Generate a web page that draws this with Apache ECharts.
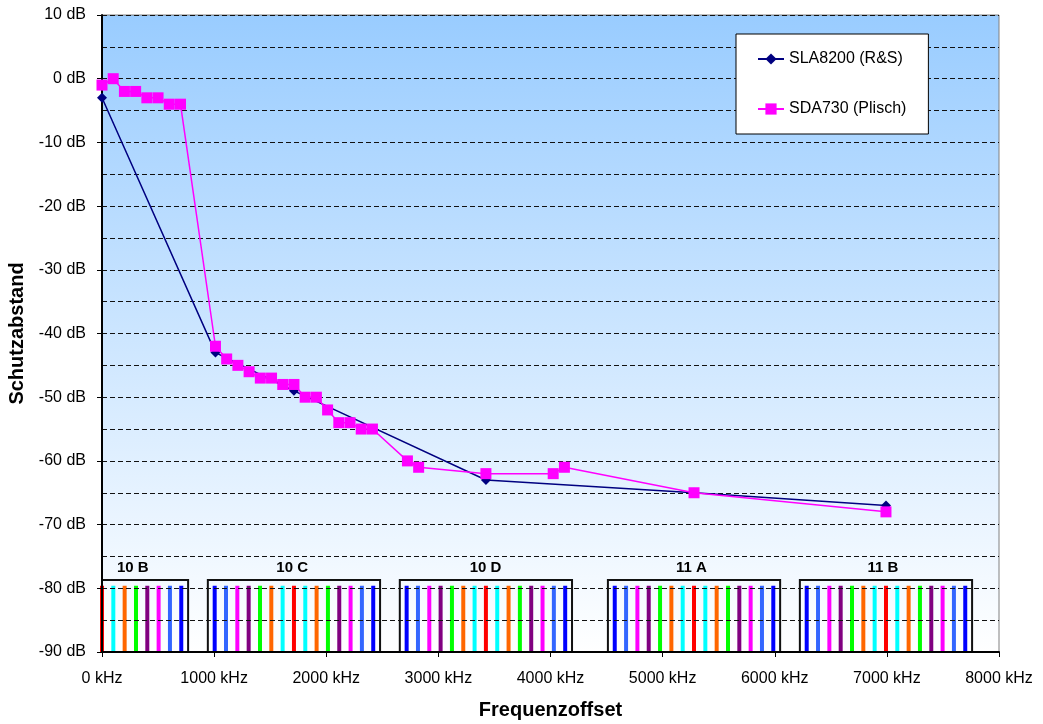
<!DOCTYPE html>
<html>
<head>
<meta charset="utf-8">
<script src="https://cdn.jsdelivr.net/npm/echarts@6/dist/echarts.min.js"></script>
<style>
html,body{margin:0;padding:0;background:#fff;}
#chart{width:1043px;height:724px;}
</style>
</head>
<body>
<div id="chart"></div>
<script>
// ---- data ----
var slaName = 'SLA8200 (R&S)';
var slaData = [[0,-3],[1012,-43],[1712,-49],[3424,-63],[5280,-65],[6992,-67]];
var sdaName = 'SDA730 (Plisch)';
var sdaData = [[0,-1],[100,0],[200,-2],[300,-2],[400,-3],[500,-3],[600,-4],[700,-4],
  [1012,-42],[1112,-44],[1212,-45],[1312,-46],[1412,-47],[1512,-47],[1612,-48],[1712,-48],
  [1812,-50],[1912,-50],[2012,-52],[2112,-54],[2212,-54],[2312,-55],[2412,-55],
  [2724,-60],[2824,-61],[3424,-62],[4024,-62],[4124,-61],[5280,-65],[6992,-68]];
// DAB blocks (centre offsets in kHz)
var blockNames = ['10 B','10 C','10 D','11 A','11 B'];
var blockCenters = [0,1712,3424,5280,6992];
var blockLabelX = [274,1696,3420,5256,6965];
var blockHalfWidth = 768;
var blockTop = -78.7;
var carrierTop = -79.6;
var carrierOffsets = [-707,-606,-505,-404,-303,-202,-101,0,101,202,303,404,505,606,707];
var carrierColors = ['#0000ff','#3366ff','#ff00ff','#800080','#00ff00','#ff6600','#00ffff','#ff0000',
  '#00ffff','#ff6600','#00ff00','#800080','#ff00ff','#3366ff','#0000ff'];
var xMin = 0, xMax = 8000, xStep = 1000;
var yMin = -90, yMax = 10, yStep = 10;

// ---- build ----
var carrierData = [];
blockCenters.forEach(function(c){
  carrierOffsets.forEach(function(o, i){
    var x = c + o;
    if (x >= xMin && x <= xMax) carrierData.push([x, i]);
  });
});
var blockData = blockCenters.map(function(c, i){
  return [Math.max(c - blockHalfWidth, xMin), Math.min(c + blockHalfWidth, xMax), blockLabelX[i], i];
});

var FONT = 'Liberation Sans, Arial, sans-serif';
var chart = echarts.init(document.getElementById('chart'));
chart.setOption({
  animation: false,
  textStyle: {fontFamily: FONT},
  grid: {
    left: 102, right: 44, top: 15, bottom: 72,
    containLabel: false, outerBoundsMode: 'none',
    show: true,
    borderColor: '#808080', borderWidth: 1,
    backgroundColor: new echarts.graphic.LinearGradient(0,0,0,1,[
      {offset:0,color:'#99ccff'},{offset:1,color:'#ffffff'}])
  },
  legend: {
    orient: 'vertical', left: 736, top: 34,
    padding: [17,22,17,21], itemGap: 34, itemWidth: 26, itemHeight: 14,
    backgroundColor: '#ffffff', borderColor: '#000000', borderWidth: 1,
    textStyle: {fontSize: 16, color: '#000', fontFamily: FONT},
    data: [slaName, sdaName]
  },
  xAxis: {
    type: 'value', min: xMin, max: xMax, interval: xStep, z: 3,
    name: 'Frequenzoffset', nameLocation: 'middle', nameGap: 48,
    nameTextStyle: {fontSize: 20, fontWeight: 'bold', color: '#000', fontFamily: FONT},
    axisLine: {show: true, onZero: false, lineStyle: {color: '#000', width: 2}},
    axisTick: {show: true, length: 5, lineStyle: {color: '#000'}},
    axisLabel: {formatter: function(v){ return v + ' kHz'; }, fontSize: 16, color: '#000', margin: 19, fontFamily: FONT},
    splitLine: {show: false}
  },
  yAxis: {
    type: 'value', min: yMin, max: yMax, interval: yStep, z: 3,
    name: 'Schutzabstand', nameLocation: 'middle', nameGap: 73, nameRotate: 90,
    nameTextStyle: {fontSize: 20, fontWeight: 'bold', color: '#000', fontFamily: FONT},
    axisLine: {show: true, onZero: false, lineStyle: {color: '#000', width: 2}},
    axisTick: {show: true, length: 5, lineStyle: {color: '#000'}},
    axisLabel: {formatter: function(v){ return v + ' dB'; }, fontSize: 16, color: '#000', margin: 16, fontFamily: FONT},
    splitLine: {show: true, lineStyle: {color: '#111', width: 1, type: [5,3]}},
    minorTick: {show: false, splitNumber: 2},
    minorSplitLine: {show: true, lineStyle: {color: '#111', width: 1, type: [5,3]}}
  },
  series: [
    {
      type: 'custom', z: 1, silent: true,
      data: carrierData,
      renderItem: function(params, api){
        var x = api.value(0);
        var p0 = api.coord([x, yMin]);
        var p1 = api.coord([x, carrierTop]);
        return {type:'line', shape:{x1:p0[0], y1:p0[1], x2:p1[0], y2:p1[1]},
          style:{stroke: carrierColors[api.value(1)], lineWidth: 4, lineCap: 'butt'}};
      }
    },
    {
      type: 'custom', z: 1, silent: true,
      data: blockData,
      renderItem: function(params, api){
        var a = api.coord([api.value(0), blockTop]);
        var b = api.coord([api.value(1), yMin]);
        var l = api.coord([api.value(2), blockTop]);
        return {type:'group', children:[
          {type:'rect', shape:{x:a[0], y:a[1], width:b[0]-a[0], height:b[1]-a[1]},
            style:{fill:'none', stroke:'#111', lineWidth:2}},
          {type:'text', x:l[0], y:a[1]-5,
            style:{text: blockNames[api.value(3)], textAlign:'center', textVerticalAlign:'bottom',
              font:'bold 15px ' + FONT, fill:'#000'}}
        ]};
      }
    },
    {
      name: slaName, type: 'line', z: 5, data: slaData,
      symbol: 'diamond', symbolSize: 10,
      lineStyle: {color: '#000080', width: 1.5},
      itemStyle: {color: '#000080'}
    },
    {
      name: sdaName, type: 'line', z: 6, data: sdaData,
      symbol: 'rect', symbolSize: 11,
      lineStyle: {color: '#ff00ff', width: 1.5},
      itemStyle: {color: '#ff00ff'}
    }
  ]
});
</script>
</body>
</html>
